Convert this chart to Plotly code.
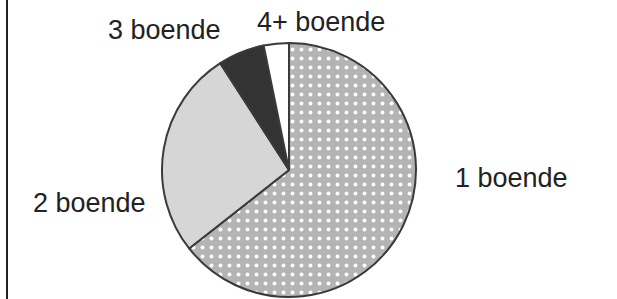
import plotly.graph_objects as go

labels = ["1 boende", "2 boende", "3 boende", "4+ boende"]
values = [64.4, 26.5, 5.9, 3.2]
slice_colors = ["#b4b4b4", "#d6d6d6", "#333333", "#ffffff"]
patterns = [".", "", "", ""]

label_pos = {
    "1 boende": (455, 178),
    "2 boende": (33, 203),
    "3 boende": (108, 30),
    "4+ boende": (257, 22),
}

W, H = 617, 299

fig = go.Figure(go.Pie(
    labels=labels,
    values=values,
    sort=False,
    direction="clockwise",
    rotation=0,
    textinfo="none",
    hoverinfo="label+percent",
    marker=dict(
        colors=slice_colors,
        line=dict(color="#3a3a3a", width=2),
        pattern=dict(shape=patterns, fgcolor="#ffffff", bgcolor=slice_colors,
                     size=9, solidity=0.15, fillmode="replace"),
    ),
    domain=dict(x=[162 / W, 416 / W], y=[2 / H, 256 / H]),
    showlegend=False,
))

for lab in labels:
    x, y = label_pos[lab]
    fig.add_annotation(x=x / W, y=1 - y / H, xref="paper", yref="paper",
                       text=lab, showarrow=False, xanchor="left", yanchor="middle",
                       xshift=-2,
                       font=dict(family="Liberation Sans, Arial", size=27, color="#222222"))

fig.add_shape(type="line", xref="paper", yref="paper",
              x0=7 / W, x1=7 / W, y0=0, y1=1,
              line=dict(color="#222222", width=2))

fig.update_layout(
    width=W, height=H,
    margin=dict(l=0, r=0, t=0, b=0),
    paper_bgcolor="white",
    plot_bgcolor="white",
)

fig.write_html("out.html", config={"displayModeBar": False},
               post_script="document.body.style.margin='0';document.body.style.overflow='hidden';")
